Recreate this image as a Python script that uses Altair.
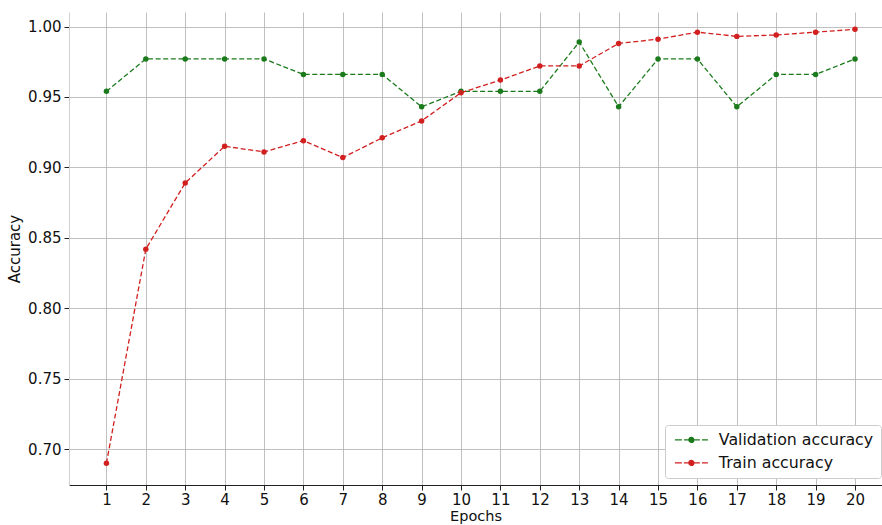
import altair as alt
import pandas as pd

epochs = list(range(1, 21))
val_acc = [0.954, 0.977, 0.977, 0.977, 0.977, 0.966, 0.966, 0.966, 0.943, 0.954,
           0.954, 0.954, 0.989, 0.943, 0.977, 0.977, 0.943, 0.966, 0.966, 0.977]
train_acc = [0.690, 0.842, 0.889, 0.915, 0.911, 0.919, 0.907, 0.921, 0.933, 0.953,
             0.962, 0.972, 0.972, 0.988, 0.991, 0.996, 0.993, 0.994, 0.996, 0.998]
series_names = ["Validation accuracy", "Train accuracy"]
series_colors = ["#1b7a1b", "#d21f1f"]
x_ticks = list(range(1, 21))
y_ticks = [0.70, 0.75, 0.80, 0.85, 0.90, 0.95, 1.00]

df = pd.DataFrame({
    "Epoch": epochs * 2,
    "Accuracy": val_acc + train_acc,
    "Series": [series_names[0]] * len(epochs) + [series_names[1]] * len(epochs),
})

FONT = "DejaVu Sans"
legend_path = ("M-1,0H0.4M0.8,0H2M2.6,0H4M4.4,0H5.6"
               "M1.8,0A0.5,0.5,0,1,0,2.8,0A0.5,0.5,0,1,0,1.8,0Z"
               "M2.1,0A0.2,0.2,0,1,0,2.5,0A0.2,0.2,0,1,0,2.1,0Z")

x_enc = alt.X("Epoch:Q",
              scale=alt.Scale(domain=[0.05, 20.685], nice=False, zero=False),
              axis=alt.Axis(values=x_ticks, title="Epochs", format="d",
                            grid=True, gridColor="#b0b0b0", gridOpacity=0.8,
                            domainColor="#222222", tickColor="#222222",
                            tickSize=5, labelPadding=2, titlePadding=2,
                            labelFontSize=15, titleFontSize=14.5,
                            labelColor="#111111", titleColor="#111111",
                            labelFont=FONT, titleFont=FONT, titleFontWeight="normal"))
y_enc = alt.Y("Accuracy:Q",
              scale=alt.Scale(domain=[0.6746, 1.0103], nice=False, zero=False),
              axis=alt.Axis(values=y_ticks, title="Accuracy", format=".2f",
                            grid=True, gridColor="#b0b0b0", gridOpacity=0.8,
                            domainColor="#d0d0d0", tickColor="#222222",
                            tickSize=5, labelPadding=3, titlePadding=5,
                            labelFontSize=15, titleFontSize=15,
                            labelColor="#111111", titleColor="#111111",
                            labelFont=FONT, titleFont=FONT, titleFontWeight="normal"))
color_scale = alt.Scale(domain=series_names, range=series_colors)

base = alt.Chart(df)

lines = base.mark_line(strokeDash=[5, 2.6], strokeWidth=1.3).encode(
    x=x_enc, y=y_enc,
    color=alt.Color("Series:N", scale=color_scale, sort=series_names,
                    legend=alt.Legend(title=None, orient="none",
                                      legendX=596, legendY=413,
                                      symbolType=legend_path, symbolSize=100,
                                      symbolStrokeWidth=1.2,
                                      labelOffset=31, labelFontSize=15.8,
                                      labelFont=FONT, labelColor="#111111",
                                      rowPadding=6, padding=7,
                                      fillColor="white", strokeColor="#cccccc",
                                      cornerRadius=3)),
    detail="Series:N",
)
points = base.mark_point(filled=True, size=30, opacity=1).encode(
    x="Epoch:Q", y="Accuracy:Q",
    color=alt.Color("Series:N", scale=color_scale, legend=None),
)

chart = alt.layer(lines, points).properties(
    width=813, height=473,
    padding={"left": 69, "top": 12, "right": 0, "bottom": 40},
    autosize=alt.AutoSizeParams(type="none"),
    background="white",
).configure_view(stroke=None)

chart.save("out.html", embed_options={"renderer": "svg", "actions": False})
